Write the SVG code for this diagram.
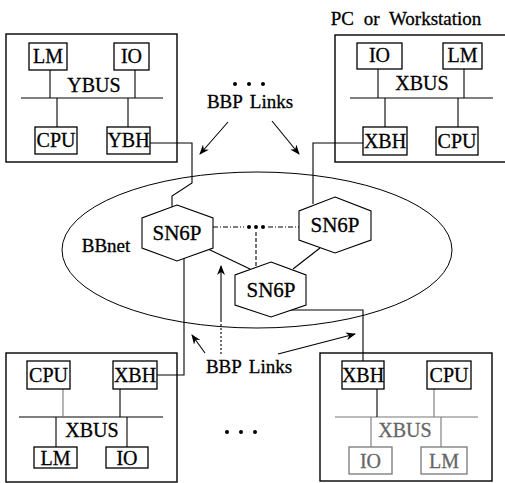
<svg xmlns="http://www.w3.org/2000/svg" width="505" height="483" viewBox="0 0 505 483">
<defs>
<style>
.box{fill:none;stroke:#000;stroke-width:1.4}
.sub{fill:#fff;stroke:#000;stroke-width:1.3}
.ln{fill:none;stroke:#000;stroke-width:1.1}
.gray{stroke:#777}
.hex{fill:#fff;stroke:#000;stroke-width:1.1}
.dot{fill:#000}
.t{stroke:#000;stroke-width:0.3}
.tg{stroke:#666;stroke-width:0.3}
</style>
<marker id="ah" markerWidth="10" markerHeight="8" refX="9" refY="4" orient="auto" markerUnits="userSpaceOnUse">
<path d="M0,0 L10,4 L0,8 L3,4 Z" fill="#000"/>
</marker>
</defs>

<g id="ellipse-bbnet">
<ellipse cx="257" cy="250" rx="195" ry="78" fill="none" stroke="#000" stroke-width="1"/>
<text class="t" x="106" y="252" font-family="Liberation Serif" font-size="19" text-anchor="middle">BBnet</text>
</g>

<g id="connectors">
<polyline class="ln" points="150,143 192,143 192,183 172,196 172,208"/>
<polyline class="ln" points="363,143 313,143 313,204"/>
<polyline class="ln" points="184,258 184,375 157,375"/>
<polyline class="ln" points="288,310 363,310 363,361"/>
<line class="ln" x1="208" y1="249" x2="250" y2="269"/>
<line class="ln" x1="320" y1="248" x2="293" y2="269"/>
<line class="ln" x1="213" y1="227" x2="244" y2="227" stroke-dasharray="5,2,1,2"/>
<line class="ln" x1="268" y1="227" x2="299" y2="227" stroke-dasharray="5,2,1,2"/>
<line class="ln" x1="256" y1="232" x2="256" y2="268" stroke-dasharray="4,2"/>
<circle class="dot" cx="249" cy="227" r="2"/>
<circle class="dot" cx="256" cy="227" r="2"/>
<circle class="dot" cx="263" cy="227" r="2"/>
<line class="ln" x1="228" y1="122" x2="200" y2="154" marker-end="url(#ah)"/>
<line class="ln" x1="272" y1="121" x2="299" y2="154" marker-end="url(#ah)"/>
<line class="ln" x1="205" y1="353" x2="192" y2="335" marker-end="url(#ah)"/>
<line class="ln" x1="278" y1="354" x2="355" y2="334" marker-end="url(#ah)"/>
<line class="ln" x1="221" y1="320" x2="221" y2="266" marker-end="url(#ah)" stroke-width="1.4"/>
<line class="ln" x1="221" y1="320" x2="221" y2="355" stroke-dasharray="2,2"/>
</g>

<g id="labels">
<circle class="dot" cx="235" cy="84" r="2"/>
<circle class="dot" cx="249" cy="84" r="2"/>
<circle class="dot" cx="263" cy="84" r="2"/>
<text class="t" x="250" y="108" font-family="Liberation Serif" font-size="19" text-anchor="middle" word-spacing="3">BBP Links</text>
<text class="t" x="249" y="373" font-family="Liberation Serif" font-size="19" text-anchor="middle" word-spacing="3">BBP Links</text>
<circle class="dot" cx="227" cy="432" r="2"/>
<circle class="dot" cx="241" cy="432" r="2"/>
<circle class="dot" cx="255" cy="432" r="2"/>
<text class="t" x="406" y="25" font-family="Liberation Serif" font-size="19" text-anchor="middle" word-spacing="5">PC or Workstation</text>
</g>

<g id="sn6p-1">
<polygon class="hex" points="177,205 213,218 213,248 177,261 142,248 142,218"/>
<text class="t" x="177" y="240" font-family="Liberation Serif" font-size="21" text-anchor="middle">SN6P</text>
</g>
<g id="sn6p-2">
<polygon class="hex" points="335,197 371,211 371,240 335,253 299,240 299,211"/>
<text class="t" x="335" y="232" font-family="Liberation Serif" font-size="21" text-anchor="middle">SN6P</text>
</g>
<g id="sn6p-3">
<polygon class="hex" points="271,262 306,275 306,305 271,317 235,305 235,275"/>
<text class="t" x="271" y="297" font-family="Liberation Serif" font-size="21" text-anchor="middle">SN6P</text>
</g>

<g id="node-top-left">
<rect class="box" x="6" y="34" width="171" height="128"/>
<line class="ln" x1="21" y1="98" x2="163" y2="98"/>
<line class="ln" x1="50" y1="70" x2="50" y2="98"/>
<line class="ln" x1="135" y1="70" x2="135" y2="98"/>
<line class="ln" x1="57" y1="98" x2="57" y2="127"/>
<line class="ln" x1="128" y1="98" x2="128" y2="127"/>
<rect class="sub" x="29" y="43" width="38" height="27"/>
<text class="t" x="48" y="63" font-family="Liberation Serif" font-size="20" text-anchor="middle">LM</text>
<rect class="sub" x="114" y="43" width="35" height="27"/>
<text class="t" x="131.5" y="63" font-family="Liberation Serif" font-size="20" text-anchor="middle">IO</text>
<text class="t" x="94" y="92" font-family="Liberation Serif" font-size="20" text-anchor="middle">YBUS</text>
<rect class="sub" x="35" y="127" width="42" height="27"/>
<text class="t" x="56" y="147" font-family="Liberation Serif" font-size="20" text-anchor="middle">CPU</text>
<rect class="sub" x="107" y="127" width="43" height="27"/>
<text class="t" x="128.5" y="147" font-family="Liberation Serif" font-size="20" text-anchor="middle">YBH</text>
</g>

<g id="node-top-right">
<rect class="box" x="335" y="35" width="180" height="127"/>
<line class="ln" x1="350" y1="98" x2="493" y2="98"/>
<line class="ln" x1="378" y1="69" x2="378" y2="98"/>
<line class="ln" x1="464" y1="69" x2="464" y2="98"/>
<line class="ln" x1="385" y1="98" x2="385" y2="127"/>
<line class="ln" x1="458" y1="98" x2="458" y2="127"/>
<rect class="sub" x="357" y="43" width="45" height="26"/>
<text class="t" x="379.5" y="62" font-family="Liberation Serif" font-size="20" text-anchor="middle">IO</text>
<rect class="sub" x="443" y="43" width="39" height="26"/>
<text class="t" x="462.5" y="62" font-family="Liberation Serif" font-size="20" text-anchor="middle">LM</text>
<text class="t" x="422" y="90" font-family="Liberation Serif" font-size="20" text-anchor="middle">XBUS</text>
<rect class="sub" x="363" y="127" width="44" height="28"/>
<text class="t" x="385" y="148" font-family="Liberation Serif" font-size="20" text-anchor="middle">XBH</text>
<rect class="sub" x="436" y="127" width="42" height="28"/>
<text class="t" x="457" y="148" font-family="Liberation Serif" font-size="20" text-anchor="middle">CPU</text>
</g>

<g id="node-bottom-left">
<rect class="box" x="6" y="353" width="171" height="129"/>
<line class="ln" x1="19" y1="417" x2="163" y2="417"/>
<line class="ln gray" x1="63" y1="389" x2="63" y2="417"/>
<line class="ln" x1="120" y1="389" x2="120" y2="417"/>
<line class="ln" x1="56" y1="417" x2="56" y2="447"/>
<line class="ln" x1="127" y1="417" x2="127" y2="447"/>
<rect class="sub" x="27" y="361" width="43" height="28"/>
<text class="t" x="48.5" y="382" font-family="Liberation Serif" font-size="20" text-anchor="middle">CPU</text>
<rect class="sub" x="113" y="361" width="44" height="28"/>
<text class="t" x="135" y="382" font-family="Liberation Serif" font-size="20" text-anchor="middle">XBH</text>
<text class="t" x="92" y="437" font-family="Liberation Serif" font-size="20" text-anchor="middle">XBUS</text>
<rect class="sub" x="34" y="447" width="43" height="21"/>
<text class="t" x="55.5" y="465" font-family="Liberation Serif" font-size="20" text-anchor="middle">LM</text>
<rect class="sub" x="106" y="447" width="42" height="21"/>
<text class="t" x="127" y="465" font-family="Liberation Serif" font-size="20" text-anchor="middle">IO</text>
</g>

<g id="node-bottom-right">
<rect class="box" x="320" y="353" width="172" height="128"/>
<line class="ln gray" x1="335" y1="417" x2="478" y2="417"/>
<line class="ln" x1="377" y1="389" x2="377" y2="417"/>
<line class="ln gray" x1="434" y1="389" x2="434" y2="417"/>
<line class="ln gray" x1="371" y1="417" x2="371" y2="447"/>
<line class="ln gray" x1="441" y1="417" x2="441" y2="447"/>
<rect class="sub" x="342" y="361" width="42" height="28"/>
<text class="t" x="363" y="382" font-family="Liberation Serif" font-size="20" text-anchor="middle">XBH</text>
<rect class="sub" x="427" y="361" width="44" height="28"/>
<text class="t" x="449" y="382" font-family="Liberation Serif" font-size="20" text-anchor="middle">CPU</text>
<text class="tg" x="405" y="437" font-family="Liberation Serif" font-size="20" text-anchor="middle" fill="#666">XBUS</text>
<rect class="sub gray" x="349" y="447" width="43" height="27"/>
<text class="tg" x="370.5" y="468" font-family="Liberation Serif" font-size="20" text-anchor="middle" fill="#666">IO</text>
<rect class="sub gray" x="421" y="447" width="46" height="27"/>
<text class="tg" x="444" y="468" font-family="Liberation Serif" font-size="20" text-anchor="middle" fill="#666">LM</text>
</g>
</svg>
